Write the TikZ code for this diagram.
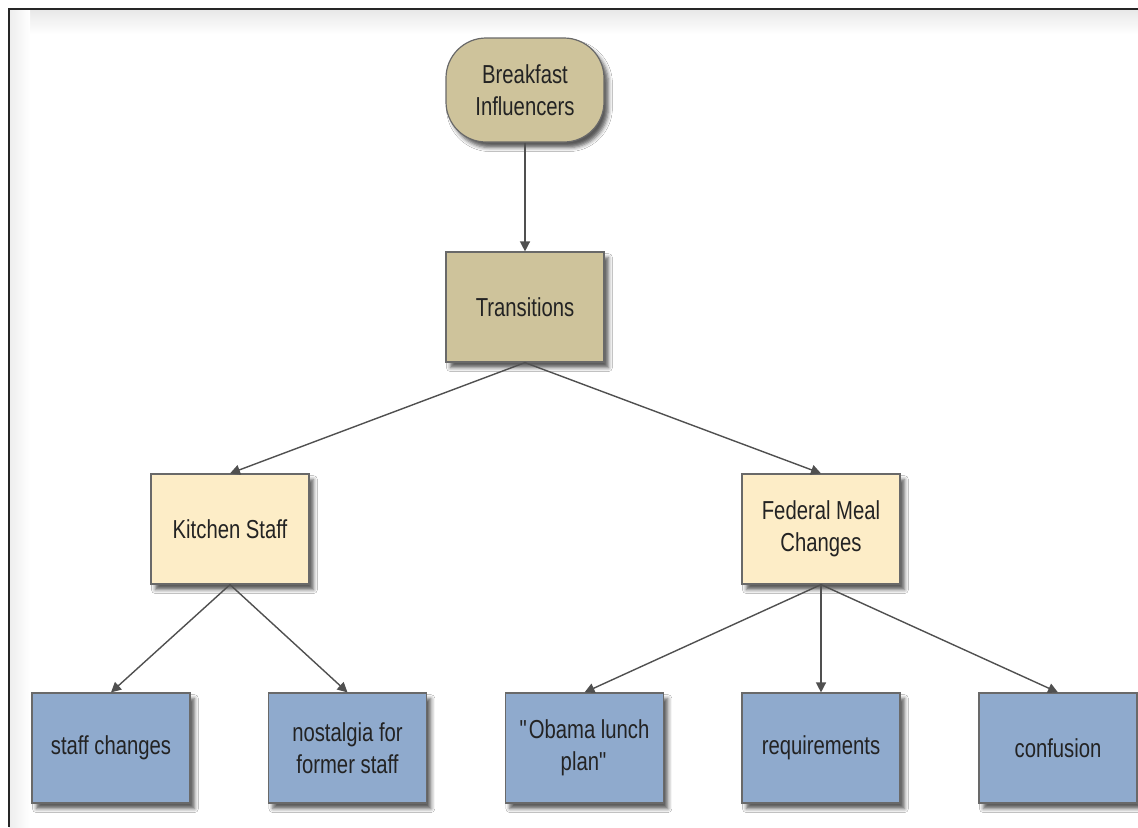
\documentclass[tikz,border=0pt]{standalone}
\usepackage{fontspec}
\setmainfont{Liberation Sans}[FakeStretch=0.78]
\usetikzlibrary{arrows.meta,shadows.blur}

\definecolor{tanfill}{RGB}{206,195,155}
\definecolor{creamfill}{RGB}{253,237,199}
\definecolor{bluefill}{RGB}{143,170,205}
\definecolor{edgegray}{RGB}{105,105,105}
\definecolor{linkgray}{RGB}{80,80,80}
\definecolor{textgray}{RGB}{35,35,35}

\tikzset{
  box/.style={draw=edgegray, line width=0.6pt, minimum width=79pt, minimum height=55pt,
    align=center, text=textgray, font=\fontsize{13}{16}\selectfont, inner sep=2pt,
    blur shadow={shadow xshift=2.2pt, shadow yshift=-2.8pt, shadow blur radius=2pt, shadow opacity=65}},
  rootbox/.style={box, fill=tanfill, rounded corners=20pt, minimum height=52pt},
  tanbox/.style={box, fill=tanfill},
  creambox/.style={box, fill=creamfill},
  leafbox/.style={box, fill=bluefill},
  link/.style={draw=linkgray, line width=0.7pt, -{Triangle[length=5pt,width=5pt]}}
}

\begin{document}
\begin{tikzpicture}[x=0.5pt, y=-0.5pt]
  \useasboundingbox (0,0) rectangle (1138,827);
  \fill[white] (0,0) rectangle (1138,827);

  % soft inner shading along the frame
  \shade[top color=black!9, bottom color=white] (9,10) rectangle (1138,34);
  \shade[left color=black!7, right color=white] (9,10) rectangle (30,827);

  % frame
  \draw[black!85, line width=1pt] (8.5,827) -- (8.5,9) -- (1138,9);

  % nodes
  \node[rootbox] (bi) at (525,90) {Breakfast\\Influencers};
  \node[tanbox] (tr) at (525,307) {Transitions};
  \node[creambox] (ks) at (230,529) {Kitchen Staff};
  \node[creambox] (fm) at (821,529) {Federal Meal\\Changes};
  \node[leafbox] (sc) at (111,748) {staff changes};
  \node[leafbox] (ns) at (347.5,748) {nostalgia for\\former staff};
  \node[leafbox] (ob) at (584.5,748) {\textquotedbl Obama lunch\\plan\textquotedbl};
  \node[leafbox] (rq) at (821,748) {requirements};
  \node[leafbox] (cf) at (1058,748) {confusion};

  % connectors
  \draw[link] (bi.south) -- (tr.north);
  \draw[link] (tr.south) -- (ks.north);
  \draw[link] (tr.south) -- (fm.north);
  \draw[link] (ks.south) -- (sc.north);
  \draw[link] (ks.south) -- (ns.north);
  \draw[link] (fm.south) -- (ob.north);
  \draw[link] (fm.south) -- (rq.north);
  \draw[link] (fm.south) -- (cf.north);
\end{tikzpicture}
\end{document}
